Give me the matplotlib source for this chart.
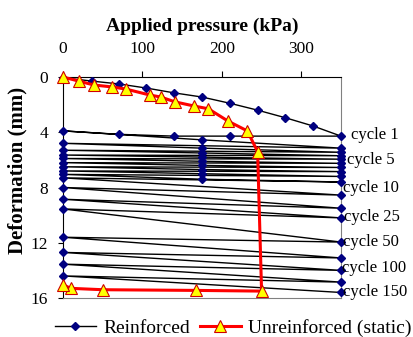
import matplotlib
matplotlib.use('Agg')
import matplotlib.pyplot as plt

plt.rcParams['font.family'] = ['Liberation Serif', 'DejaVu Serif']

# reinforced: cycle 1 loading, then unload / reload cycles (kPa, mm)
reinf_p = [0, 37, 70, 105, 140, 175, 210, 245, 280, 315, 350,
           210, 140, 70, 0,
           175, 350, 0,          # cycle 2
           175, 350, 0,          # cycle 3
           175, 350, 0,          # cycle 4
           175, 350, 0,          # cycle 5
           175, 350, 0,          # cycle 6
           175, 350, 0,          # cycle 7
           175, 350, 0,          # cycle 8
           175, 350, 0,          # cycle 9
           175, 350, 0,          # cycle 10
           350, 0, 350, 0, 350, 0, 350, 0,
           350, 0, 350, 0, 350, 0, 350]
reinf_d = [0.05, 0.3, 0.5, 0.8, 1.15, 1.45, 1.9, 2.4, 2.95, 3.55, 4.28,
           4.28, 4.28, 4.15, 3.9,
           4.55, 5.15, 4.8,
           5.15, 5.45, 5.3,
           5.5, 5.7, 5.65,
           5.8, 5.95, 5.9,
           6.1, 6.25, 6.2,
           6.4, 6.55, 6.5,
           6.7, 6.85, 6.8,
           7.0, 7.2, 7.05,
           7.4, 7.6, 7.3,
           8.55, 8.0, 9.5, 8.85, 10.2, 9.55, 11.95, 11.6,
           13.1, 12.7, 14.0, 13.55, 14.85, 14.4, 15.6]

# unreinforced static test
unrein_p = [0, 20, 39, 62, 79, 109, 123, 141, 165, 183, 208, 232, 245,
            250, 168, 50, 10, 0]
unrein_d = [0, 0.3, 0.58, 0.72, 0.87, 1.3, 1.45, 1.8, 2.1, 2.3, 3.2, 3.9, 5.4,
            15.5, 15.45, 15.4, 15.3, 15.05]

cycle_labels = ['cycle 1', 'cycle 5', 'cycle 10', 'cycle 25', 'cycle 50', 'cycle 100', 'cycle 150']
label_x = [362, 358, 353, 354, 353, 351, 353]
label_y = [4.2, 6.0, 8.05, 10.15, 11.95, 13.8, 15.6]

fig = plt.figure(figsize=(4.13, 3.37), dpi=100)
ax = fig.add_axes([0.1525, 0.1157, 0.6732, 0.6558])

ax.plot(reinf_p, reinf_d, color='black', lw=1.0, marker='D', ms=4.5,
        mfc='#000080', mec='#000080', label='Reinforced', clip_on=False, zorder=3)
ax.plot(unrein_p, unrein_d, color='#FF0000', lw=2.2, marker='^', ms=8.5,
        mfc='#FFFF00', mec='#D00000', mew=0.8, label='Unreinforced (static)',
        clip_on=False, zorder=4)

for t, x, y in zip(cycle_labels, label_x, label_y):
    ax.text(x, y, t, fontsize=12, va='center', ha='left', clip_on=False)

ax.set_xlim(0, 350)
ax.set_ylim(16, 0)
ax.set_xticks([0, 100, 200, 300])
ax.set_yticks([0, 4, 8, 12, 16])
ax.xaxis.tick_top()
ax.xaxis.set_label_position('top')
ax.tick_params(axis='both', direction='out', labelsize=12.5, width=0.8)
ax.tick_params(axis='x', length=4.5, pad=10)
ax.tick_params(axis='y', length=3.6, pad=7)
ax.set_xlabel('Applied pressure (kPa)', fontsize=14, fontweight='bold', labelpad=7)
ax.set_ylabel('Deformation (mm)', fontsize=15, fontweight='bold')
ax.yaxis.label.set_verticalalignment('center')
ax.yaxis.set_label_coords(-0.165, 0.579)

for s in ['top', 'left']:
    ax.spines[s].set_color('black')
    ax.spines[s].set_linewidth(0.8)
for s in ['right', 'bottom']:
    ax.spines[s].set_color('#808080')
    ax.spines[s].set_linewidth(0.8)

fig.legend(loc='center', bbox_to_anchor=(0.565, 0.027), ncol=2, frameon=False,
           fontsize=14, handlelength=2.1, columnspacing=0.5, handletextpad=0.4,
           borderpad=0, borderaxespad=0)

fig.savefig('out.png', dpi=100)
